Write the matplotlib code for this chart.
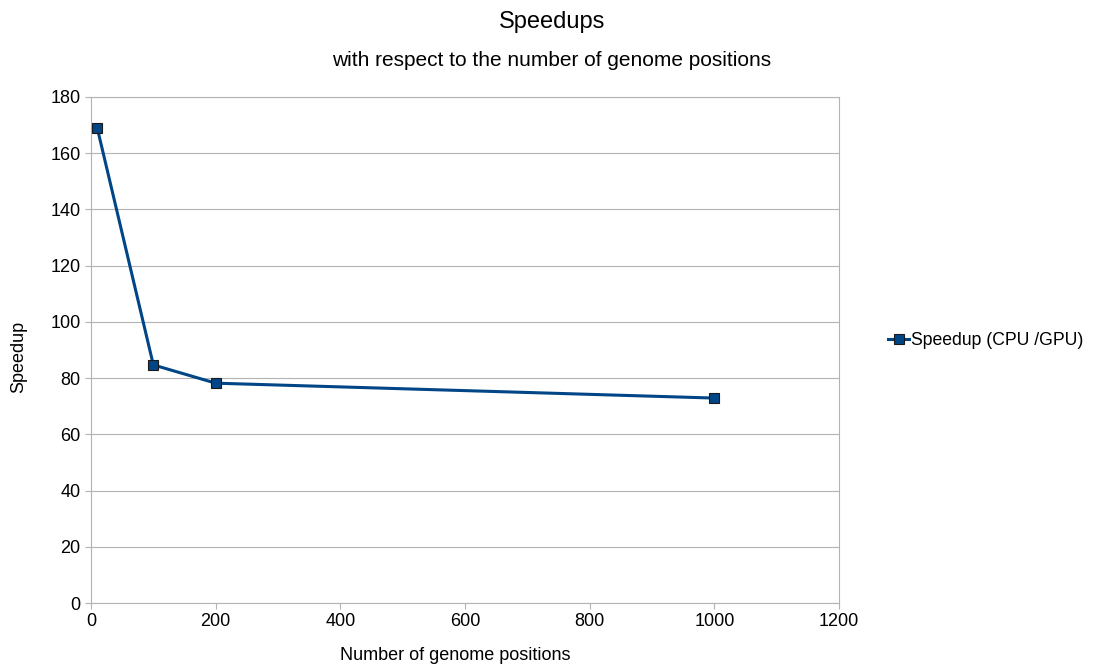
import matplotlib
matplotlib.use("Agg")
import matplotlib.pyplot as plt

plt.rcParams['font.family'] = ['Liberation Sans', 'DejaVu Sans']

positions = [10, 100, 200, 1000]
speedup = [169, 84.7, 78.2, 72.9]
series_name = "Speedup (CPU /GPU)"
xticks = [0, 200, 400, 600, 800, 1000, 1200]
yticks = [0, 20, 40, 60, 80, 100, 120, 140, 160, 180]

fig = plt.figure(figsize=(10.94, 6.66), dpi=100)
ax = fig.add_axes([91/1094, 1-603/666, (839-91)/1094, (603-97)/666])

color = '#004586'
ax.plot(positions, speedup, color=color, lw=2.2, marker='s', markersize=7,
        markerfacecolor=color, markeredgecolor='#1a1a1a', markeredgewidth=0.8,
        label=series_name, zorder=3)

ax.set_xlim(0, 1200)
ax.set_ylim(0, 180)
ax.set_xticks(xticks)
ax.set_yticks(yticks)
ax.grid(axis='y', color='#b3b3b3', lw=0.8)
for s in ax.spines.values():
    s.set_color('#b3b3b3')
    s.set_linewidth(0.8)
ax.tick_params(axis='both', colors='#b3b3b3', length=4, width=0.8, labelcolor='black', labelsize=13)

ax.set_xlabel("Number of genome positions", fontsize=13, va='center')
ax.xaxis.set_label_coords((455-91)/748, (603-655)/506)
ax.set_ylabel("Speedup", fontsize=13, va='center')
ax.yaxis.set_label_coords((19-91)/748, (603-357)/506)

fig.text(552/1094, 1-22/666, "Speedups", ha='center', va='center', fontsize=17)
fig.text(552/1094, 1-61/666, "with respect to the number of genome positions", ha='center', va='center', fontsize=15)

leg = fig.legend(loc='center left', bbox_to_anchor=(881/1094, 1-341/666), frameon=False,
                 fontsize=12.7, handlelength=1.2, handletextpad=0.1, borderaxespad=0)

fig.savefig("out.png", dpi=100)
